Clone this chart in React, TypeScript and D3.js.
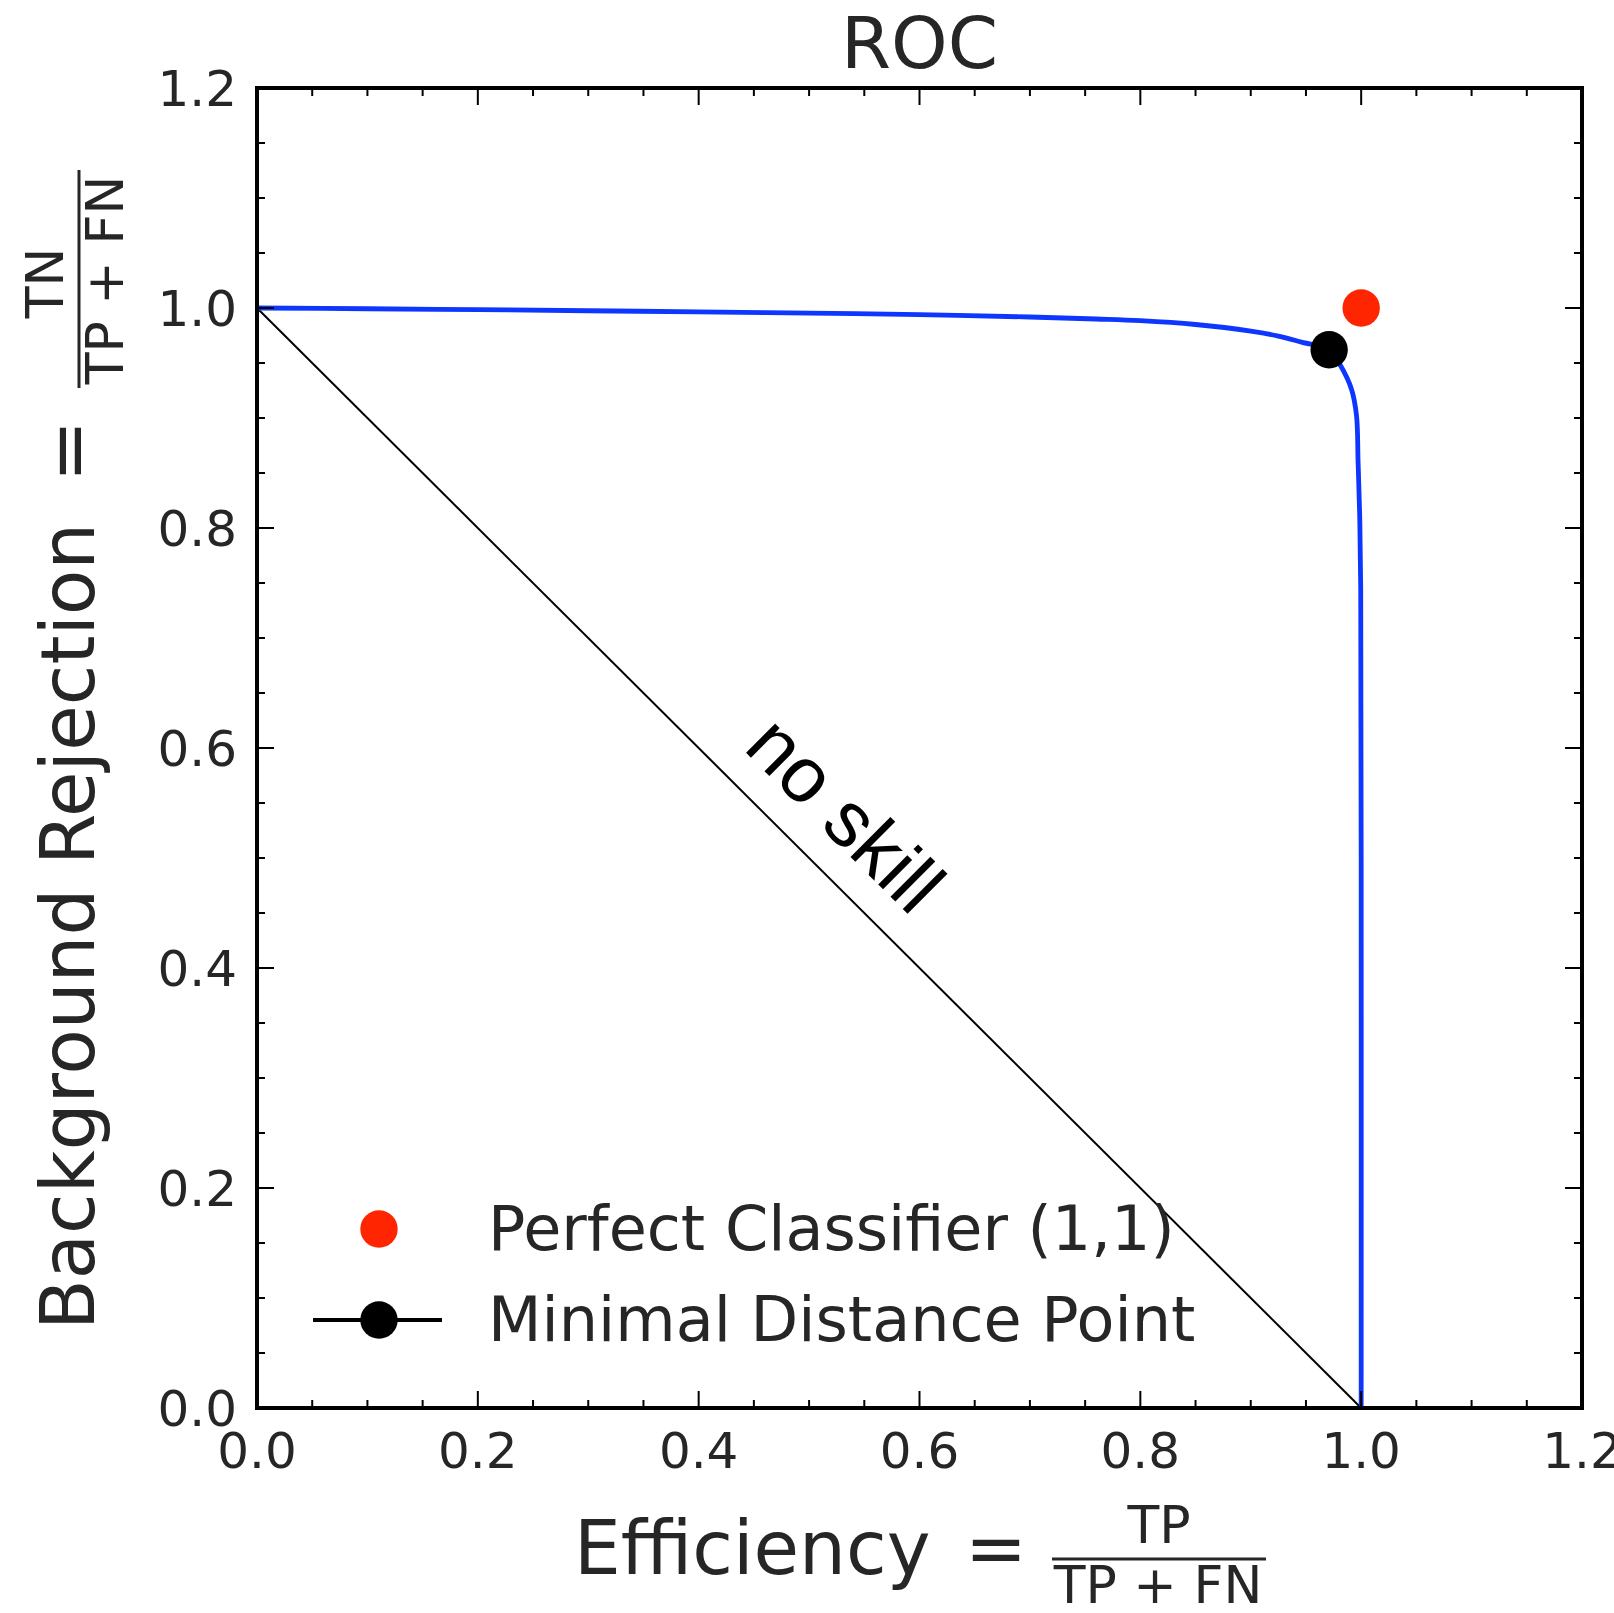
import React from "react";
import * as d3 from "d3";

// ---- data ----
const EFFICIENCY = [0, 0.1, 0.2, 0.3, 0.4, 0.5, 0.6, 0.7, 0.76, 0.8, 0.85, 0.9, 0.925, 0.946, 0.971, 0.9805, 0.9913, 0.9958, 0.9972, 0.9986, 0.9996, 1.0, 1.0];
const REJECTION = [1.0, 0.9993, 0.9985, 0.9975, 0.9965, 0.9953, 0.994, 0.9918, 0.990, 0.9885, 0.985, 0.979, 0.9745, 0.969, 0.962, 0.949, 0.926, 0.902, 0.860, 0.814, 0.744, 0.5, 0.0];
const MIN_DIST_POINT = [0.971, 0.962];
const PERFECT_POINT = [1.0, 1.0];
const NO_SKILL_X = [0, 1];
const NO_SKILL_Y = [1, 0];
const NO_SKILL_LABEL_POS = [0.516, 0.5225];
const MAJOR_TICKS = [0, 0.2, 0.4, 0.6, 0.8, 1.0, 1.2];
const MINOR_TICKS = [0.05, 0.1, 0.15, 0.25, 0.3, 0.35, 0.45, 0.5, 0.55, 0.65, 0.7, 0.75, 0.85, 0.9, 0.95, 1.05, 1.1, 1.15];
const TITLE = "ROC";
const LEGEND_LABELS = ["Perfect Classifier (1,1)", "Minimal Distance Point"];

const W = 1614;
const H = 1613;
const L = 257, R = 1582, T = 88, B = 1408;
const FONT = "'DejaVu Sans', sans-serif";
const TXT = "#262626";
const BLUE = "#0d36ff";
const RED = "#ff2500";

export default function App() {
  const x = d3.scaleLinear().domain([0, 1.2]).range([L, R]);
  const y = d3.scaleLinear().domain([0, 1.2]).range([B, T]);
  const fmt = d3.format(".1f");

  const roc = d3
    .line<number>()
    .x((_, i) => x(EFFICIENCY[i]))
    .y((_, i) => y(REJECTION[i]))
    .curve(d3.curveCatmullRom.alpha(0.5))(EFFICIENCY);

  const diag = d3
    .line<number>()
    .x((_, i) => x(NO_SKILL_X[i]))
    .y((_, i) => y(NO_SKILL_Y[i]))(NO_SKILL_X);

  const major = 17, minor = 8;
  const markerR = 18.7;
  const angle = (Math.atan2(y(0) - y(1), x(1) - x(0)) * 180) / Math.PI;

  return (
    <svg width={W} height={H} style={{ position: "absolute", left: 0, top: 0, background: "#fff" }}>
      <rect x={0} y={0} width={W} height={H} fill="#fff" />
      {/* title */}
      <text x={(L + R) / 2} y={68} textAnchor="middle" fontFamily={FONT} fontSize={72} fill={TXT}>
        {TITLE}
      </text>

      {/* diagonal */}
      <path d={diag || ""} stroke="#000" strokeWidth={2} fill="none" />
      <text
        transform={`translate(${x(NO_SKILL_LABEL_POS[0])},${y(NO_SKILL_LABEL_POS[1])}) rotate(${angle})`}
        textAnchor="middle"
        fontFamily="'Liberation Sans', Arial, sans-serif"
        fontSize={78}
        fill="#000"
      >
        no skill
      </text>

      {/* ROC curve */}
      <path d={roc || ""} stroke={BLUE} strokeWidth={4.8} fill="none" strokeLinejoin="round" />

      {/* points */}
      <circle cx={x(MIN_DIST_POINT[0])} cy={y(MIN_DIST_POINT[1])} r={markerR} fill="#000" />
      <circle cx={x(PERFECT_POINT[0])} cy={y(PERFECT_POINT[1])} r={markerR} fill={RED} />

      {/* ticks */}
      {MAJOR_TICKS.map((t) => (
        <g key={"M" + t} stroke="#000" strokeWidth={2}>
          <line x1={x(t)} x2={x(t)} y1={B} y2={B - major} />
          <line x1={x(t)} x2={x(t)} y1={T} y2={T + major} />
          <line x1={L} x2={L + major} y1={y(t)} y2={y(t)} />
          <line x1={R} x2={R - major} y1={y(t)} y2={y(t)} />
        </g>
      ))}
      {MINOR_TICKS.map((t) => (
        <g key={"m" + t} stroke="#000" strokeWidth={2}>
          <line x1={x(t)} x2={x(t)} y1={B} y2={B - minor} />
          <line x1={x(t)} x2={x(t)} y1={T} y2={T + minor} />
          <line x1={L} x2={L + minor} y1={y(t)} y2={y(t)} />
          <line x1={R} x2={R - minor} y1={y(t)} y2={y(t)} />
        </g>
      ))}

      {/* frame */}
      <rect x={L} y={T} width={R - L} height={B - T} fill="none" stroke="#000" strokeWidth={4} />

      {/* tick labels */}
      {MAJOR_TICKS.map((t) => (
        <text key={"xl" + t} x={x(t)} y={1468} textAnchor="middle" fontFamily={FONT} fontSize={50} fill={TXT}>
          {fmt(t)}
        </text>
      ))}
      {MAJOR_TICKS.map((t) => (
        <text key={"yl" + t} x={237} y={y(t) + 18} textAnchor="end" fontFamily={FONT} fontSize={50} fill={TXT}>
          {fmt(t)}
        </text>
      ))}

      {/* legend */}
      <circle cx={379} cy={1229} r={markerR} fill={RED} />
      <text x={488} y={1250} fontFamily={FONT} fontSize={62} fill={TXT}>
        {LEGEND_LABELS[0]}
      </text>
      <line x1={313} x2={442} y1={1320} y2={1320} stroke="#000" strokeWidth={4} />
      <circle cx={379} cy={1320} r={markerR} fill="#000" />
      <text x={488} y={1341} fontFamily={FONT} fontSize={62} fill={TXT}>
        {LEGEND_LABELS[1]}
      </text>

      {/* x label */}
      <text x={574} y={1574} fontFamily={FONT} fontSize={74} fill={TXT}>
        Efficiency
      </text>
      <text x={996} y={1574} textAnchor="middle" fontFamily={FONT} fontSize={74} fill={TXT}>
        =
      </text>
      <line x1={1052} x2={1266} y1={1559} y2={1559} stroke={TXT} strokeWidth={3} />
      <text x={1159} y={1543} textAnchor="middle" fontFamily={FONT} fontSize={52} fill={TXT}>
        TP
      </text>
      <text x={1158} y={1603} textAnchor="middle" fontFamily={FONT} fontSize={52} fill={TXT}>
        TP + FN
      </text>

      {/* y label */}
      <text transform="translate(94,1330) rotate(-90)" fontFamily={FONT} fontSize={74} fill={TXT}>
        Background Rejection
      </text>
      <text transform="translate(94,451) rotate(-90)" textAnchor="middle" fontFamily={FONT} fontSize={74} fill={TXT}>
        =
      </text>
      <line x1={79} x2={79} y1={170} y2={388} stroke={TXT} strokeWidth={3} />
      <text transform="translate(63,283) rotate(-90)" textAnchor="middle" fontFamily={FONT} fontSize={52} fill={TXT}>
        TN
      </text>
      <text transform="translate(123,280) rotate(-90)" textAnchor="middle" fontFamily={FONT} fontSize={52} fill={TXT}>
        TP + FN
      </text>
    </svg>
  );
}
